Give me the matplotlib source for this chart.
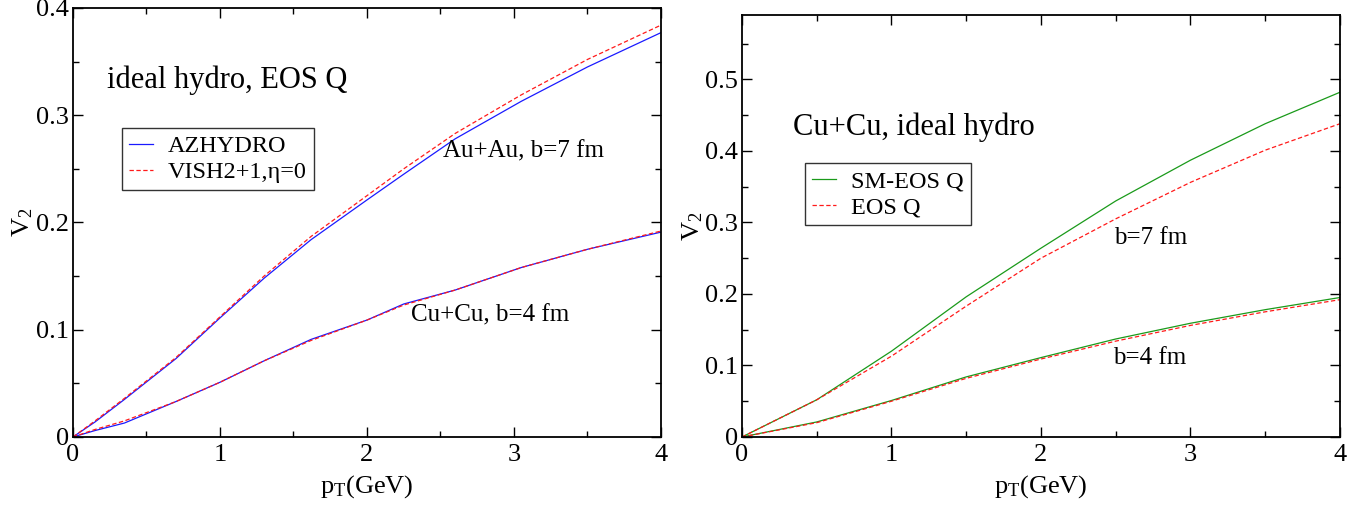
import matplotlib
matplotlib.use('Agg')
import matplotlib.pyplot as plt
from matplotlib.ticker import MultipleLocator, FuncFormatter

plt.rcParams['font.family'] = ['Liberation Serif', 'DejaVu Serif']
plt.rcParams['mathtext.fontset'] = 'custom'
plt.rcParams['mathtext.rm'] = 'Liberation Serif'
plt.rcParams['mathtext.it'] = 'Liberation Serif:italic'

# --- left panel: AZHYDRO vs VISH2+1 ---
pt_left = [0, 0.15, 0.35, 0.7, 1.0, 1.3, 1.62, 2.0, 2.25, 2.6, 3.05, 3.5, 4.0]
auau_azhydro = [0, 0.014, 0.035, 0.073, 0.111, 0.148, 0.184, 0.221, 0.245, 0.278, 0.313, 0.345, 0.377]
auau_vish = [0, 0.015, 0.036, 0.074, 0.112, 0.150, 0.187, 0.225, 0.250, 0.283, 0.319, 0.352, 0.384]
cucu_azhydro = [0, 0.006, 0.013, 0.033, 0.051, 0.071, 0.091, 0.109, 0.124, 0.137, 0.158, 0.175, 0.191]
cucu_vish = [0, 0.007, 0.015, 0.033, 0.051, 0.071, 0.090, 0.109, 0.123, 0.137, 0.158, 0.175, 0.192]

# --- right panel: SM-EOS Q vs EOS Q, Cu+Cu ---
pt_right = [0, 0.5, 1.0, 1.5, 2.0, 2.5, 3.0, 3.5, 4.0]
b7_smeos = [0, 0.052, 0.120, 0.196, 0.264, 0.330, 0.387, 0.438, 0.482]
b7_eos = [0, 0.052, 0.113, 0.183, 0.250, 0.305, 0.356, 0.401, 0.438]
b4_smeos = [0, 0.021, 0.051, 0.084, 0.111, 0.137, 0.159, 0.178, 0.195]
b4_eos = [0, 0.020, 0.050, 0.082, 0.109, 0.134, 0.156, 0.175, 0.192]

BLUE = '#1a1aff'
RED = '#ff1a1a'
GREEN = '#1a9a1a'
DASH = (0, (3.5, 2))

fig = plt.figure(figsize=(13.69, 5.05), dpi=100)
ax_l = fig.add_axes([0.0533, 0.1347, 0.4295, 0.8495])
ax_r = fig.add_axes([0.542, 0.1347, 0.4368, 0.8356])

fmt = FuncFormatter(lambda v, _: '%g' % round(v, 3))


def style(ax, ymax):
    ax.set_xlim(0, 4)
    ax.set_ylim(0, ymax)
    ax.xaxis.set_major_locator(MultipleLocator(1))
    ax.xaxis.set_minor_locator(MultipleLocator(0.5))
    ax.yaxis.set_major_locator(MultipleLocator(0.1))
    ax.yaxis.set_minor_locator(MultipleLocator(0.05))
    ax.xaxis.set_major_formatter(fmt)
    ax.yaxis.set_major_formatter(fmt)
    ax.tick_params(which='both', direction='in', top=True, right=True,
                   labelsize=19, width=1.0)
    ax.tick_params(which='major', length=7)
    ax.tick_params(which='minor', length=4.5)
    ax.tick_params(axis='x', which='major', pad=5)
    ax.tick_params(axis='y', which='major', pad=3)
    for s in ax.spines.values():
        s.set_linewidth(1.3)
    ax.set_xlabel(r'p$_\mathrm{T}$(GeV)', fontsize=19)
    ax.set_ylabel(r'V$_2$', fontsize=19)


def add_legend(ax, anchor):
    leg = ax.legend(loc='upper left', bbox_to_anchor=anchor, fontsize=17.5,
                    frameon=True, fancybox=False, edgecolor='black',
                    handlelength=1.0, handletextpad=0.6, borderpad=0.3,
                    labelspacing=0.15, borderaxespad=0)
    leg.get_frame().set_linewidth(1.0)


style(ax_l, 0.4)
ax_l.plot(pt_left, auau_azhydro, color=BLUE, lw=0.9, label='AZHYDRO')
ax_l.plot(pt_left, auau_vish, color=RED, lw=0.9, ls=DASH, label='VISH2+1,η=0')
ax_l.plot(pt_left, cucu_azhydro, color=BLUE, lw=0.9)
ax_l.plot(pt_left, cucu_vish, color=RED, lw=0.9, ls=DASH)
ax_l.text(0.23, 0.333, 'ideal hydro, EOS Q', fontsize=22, va='center')
ax_l.text(2.52, 0.266, 'Au+Au, b=7 fm', fontsize=18, va='center')
ax_l.text(2.30, 0.113, 'Cu+Cu, b=4 fm', fontsize=18, va='center')
add_legend(ax_l, (0.083, 0.72))
ax_l.xaxis.set_label_coords(0.5, -0.085)
ax_l.yaxis.set_label_coords(-0.064, 0.5)

style(ax_r, 0.59)
ax_r.plot(pt_right, b7_smeos, color=GREEN, lw=0.9, label='SM-EOS Q')
ax_r.plot(pt_right, b7_eos, color=RED, lw=0.9, ls=DASH, label='EOS Q')
ax_r.plot(pt_right, b4_smeos, color=GREEN, lw=0.9)
ax_r.plot(pt_right, b4_eos, color=RED, lw=0.9, ls=DASH)
ax_r.text(0.34, 0.433, 'Cu+Cu, ideal hydro', fontsize=22, va='center')
ax_r.text(2.49, 0.278, 'b=7 fm', fontsize=18, va='center')
ax_r.text(2.48, 0.110, 'b=4 fm', fontsize=18, va='center')
add_legend(ax_r, (0.105, 0.649))
ax_r.xaxis.set_label_coords(0.5, -0.085)
ax_r.yaxis.set_label_coords(-0.062, 0.5)

fig.savefig('out.png', dpi=100)
